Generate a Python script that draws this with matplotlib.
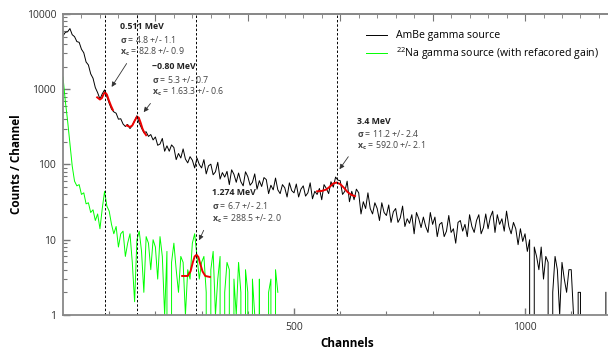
import numpy as np
import matplotlib.pyplot as plt

plt.rcParams['font.family'] = ['Open Sans', 'DejaVu Sans']
plt.rcParams['mathtext.fontset'] = 'custom'
plt.rcParams['mathtext.rm'] = 'Open Sans'
plt.rcParams['mathtext.bf'] = 'Open Sans:bold'
plt.rcParams['mathtext.it'] = 'Open Sans:italic'

# ---------- DATA (5-channel bins) ----------

bin_width = 5

# AmBe spectrum, channels 0..1175
ambe_counts = [
    5100, 5700, 5800, 6400, 5300, 5000, 4300, 4200, 3400, 3050,
    2300, 2100, 1600, 1400, 1050, 900, 740, 870, 980, 800,
    650, 545, 500, 480, 400, 405, 345, 320, 340, 300,
    330, 380, 445, 355, 305, 265, 272, 236, 250, 212,
    232, 180, 187, 222, 150, 177, 150, 182, 168, 116,
    140, 122, 161, 118, 105, 127, 114, 90, 122, 100,
    90, 116, 75, 96, 101, 73, 80, 107, 64, 78,
    68, 81, 54, 85, 74, 58, 77, 59, 52, 80,
    69, 53, 58, 75, 47, 61, 51, 67, 63, 41,
    53, 46, 66, 46, 41, 54, 49, 37, 57, 45,
    42, 55, 37, 47, 52, 38, 42, 57, 35, 44,
    40, 48, 34, 54, 48, 41, 59, 50, 68, 62,
    61, 40, 44, 60, 32, 44, 34, 47, 42, 22,
    32, 26, 42, 26, 22, 31, 26, 18, 31, 23,
    21, 29, 17, 23.5, 26, 17, 19.5, 28, 15, 19,
    16.5, 21.5, 12, 23, 19, 14.5, 20, 15, 12.5, 23,
    16, 20, 11, 16, 17, 11, 13, 21, 12.5, 14,
    9, 17, 18, 13, 16, 11, 21.5, 15, 12.5, 18,
    21.5, 12, 14.5, 22, 14, 20, 24, 12.5, 21.5, 16,
    19, 13, 24, 15, 12, 17, 14, 8.6, 14, 9.5,
    12, 7, 10, 0, 8, 6, 4, 8, 3, 6,
    5, 0, 2, 6, 4, 1, 5, 3, 2, 4,
    4, 1, 0, 2, 2, 0, 0, 0, 0, 0,
    0, 0, 0, 0, 0, 2,
]

# 22Na spectrum, channels 0..465
na_counts = [
    1450, 700, 380, 190, 95, 60, 52, 54, 40, 42,
    30, 31, 23, 25, 18, 22, 14, 26, 44, 28,
    24, 16, 12, 15, 8, 12, 13, 6, 9, 12,
    5, 1.5, 10, 13, 7, 2, 11, 9, 4, 10,
    8, 3, 11, 6, 1, 7, 0, 5, 9, 4,
    2, 6, 5, 1, 4, 3, 9, 12, 6, 3,
    5, 6, 2, 0, 4, 7, 1, 3, 6, 0,
    2, 5, 4, 0, 3, 1, 5, 2, 0, 4,
    2, 0, 3, 1, 0, 3, 0, 1, 0, 2,
    3, 0, 4, 2,
]

# peak fits (red)
fit1_ch = [74, 80, 84, 88, 91, 95, 99, 104, 108]
fit1_val = [780, 730, 760, 860, 910, 850, 720, 600, 530]
fit2_ch = [138, 145, 150, 155, 160, 164, 168, 172, 176, 180]
fit2_val = [330, 315, 330, 380, 430, 420, 360, 300, 265, 245]
fit3_ch = [258, 270, 276, 281, 285, 289, 293, 297, 302, 308, 318]
fit3_val = [3.3, 3.3, 3.8, 5.0, 6.0, 6.3, 5.9, 4.8, 3.8, 3.3, 3.2]
fit4_ch = [550, 560, 570, 578, 585, 592, 600, 608, 616, 624, 632]
fit4_val = [44, 44.5, 46.5, 51, 56, 57.5, 55, 49, 43, 39.5, 38]

peak_lines = [91, 160, 288, 592]

peak_names = ['0.511 MeV', '~0.80 MeV', '1.274 MeV', '3.4 MeV']
peak_sigma = ['4.8 +/- 1.1', '5.3 +/- 0.7', '6.7 +/- 2.1', '11.2 +/- 2.4']
peak_xc = ['82.8 +/- 0.9', '1.63.3 +/- 0.6', '288.5 +/- 2.0', '592.0 +/- 2.1']

# ---------- PLOT ----------

ambe_ch = np.arange(len(ambe_counts)) * bin_width
na_ch = np.arange(len(na_counts)) * bin_width

fig = plt.figure(figsize=(6.08, 3.54), dpi=100)
ax = fig.add_axes([0.1036, 0.1102, 0.9423, 0.8503])

ax.plot(ambe_ch, ambe_counts, color='black', lw=0.7,
        label='AmBe gamma source')
ax.plot(na_ch, na_counts, color='#00ff00', lw=0.7,
        label=r'$^{22}$Na gamma source (with refacored gain)')

for fx, fy in [(fit1_ch, fit1_val), (fit2_ch, fit2_val),
               (fit3_ch, fit3_val), (fit4_ch, fit4_val)]:
    ax.plot(fx, fy, color='#ee0000', lw=1.4)

for xl in peak_lines:
    ax.axvline(xl, color='black', lw=0.7, ls=(0, (2.5, 2)))

# annotations: text anchor (channel, counts) and arrow tail/head
text_pos = [(123, 6900), (193, 2030), (322, 42), (636, 374)]
line_fac = [0.671, 0.671, 0.671, 0.69]
arrow_tail = [(141, 2360), (193, 692), (307, 14.4), (621, 136)]
arrow_head = [(102, 1000), (171, 464), (292, 9.1), (595, 80.7)]

for i in range(4):
    tx, ty = text_pos[i]
    f = line_fac[i]
    ax.text(tx, ty, peak_names[i], fontsize=6.3, fontweight='bold',
            color='#222222', va='center')
    ax.text(tx, ty * f, r'$\mathbf{\sigma}$ = ' + peak_sigma[i], fontsize=6.3,
            color='#444444', va='center')
    ax.text(tx, ty * f * f, r'$\mathbf{x_c}$ = ' + peak_xc[i], fontsize=6.3,
            color='#444444', va='center')
    ax.annotate('', xy=arrow_head[i], xytext=arrow_tail[i],
                arrowprops=dict(arrowstyle='-|>', color='#333333', lw=0.6,
                                mutation_scale=7))

ax.set_yscale('log')
ax.set_xlim(0, 1240)
ax.set_ylim(1, 10000)

ax.set_yticks([1, 10, 100, 1000, 10000], labels=['1', '10', '100', '1000', '10000'])
ax.yaxis.set_minor_locator(plt.matplotlib.ticker.LogLocator(subs=np.arange(2, 10)))
ax.yaxis.set_minor_formatter(plt.NullFormatter())
ax.set_xticks([500, 1000], labels=['500', '1000'])
ax.set_xticks(np.arange(100, 1240, 100), minor=True)

ax.tick_params(axis='both', which='both', direction='in', colors='#777777',
               labelcolor='#333333', labelsize=7.5, top=False, right=False)
ax.tick_params(axis='both', which='major', length=5, width=1, pad=5)
ax.tick_params(axis='both', which='minor', length=3, width=0.8)

sec = ax.secondary_xaxis('top')
sec.set_xticks(np.arange(200, 1240, 200), labels=[])
sec.set_xticks(np.arange(40, 1240, 40), minor=True)
sec.tick_params(which='both', direction='in', colors='#777777')
sec.tick_params(which='major', length=5)
sec.tick_params(which='minor', length=3)
sec.spines['top'].set_color('#888888')
sec.spines['top'].set_linewidth(1.3)

for s in ['left', 'bottom', 'top']:
    ax.spines[s].set_color('#888888')
    ax.spines[s].set_linewidth(1.3)
ax.spines['right'].set_visible(False)

ax.set_xlabel('Channels', fontsize=8.5, fontweight='bold')
ax.set_ylabel('Counts / Channel', fontsize=8.5, fontweight='bold')
ax.xaxis.set_label_coords(0.496, -0.073)
ax.yaxis.set_label_coords(-0.070, 0.5)

ax.legend(loc='upper left', bbox_to_anchor=(0.522, 0.96), frameon=False,
          fontsize=7.6, handlelength=2.0, labelspacing=0.35, borderaxespad=0)

fig.savefig('out.png', dpi=100)
